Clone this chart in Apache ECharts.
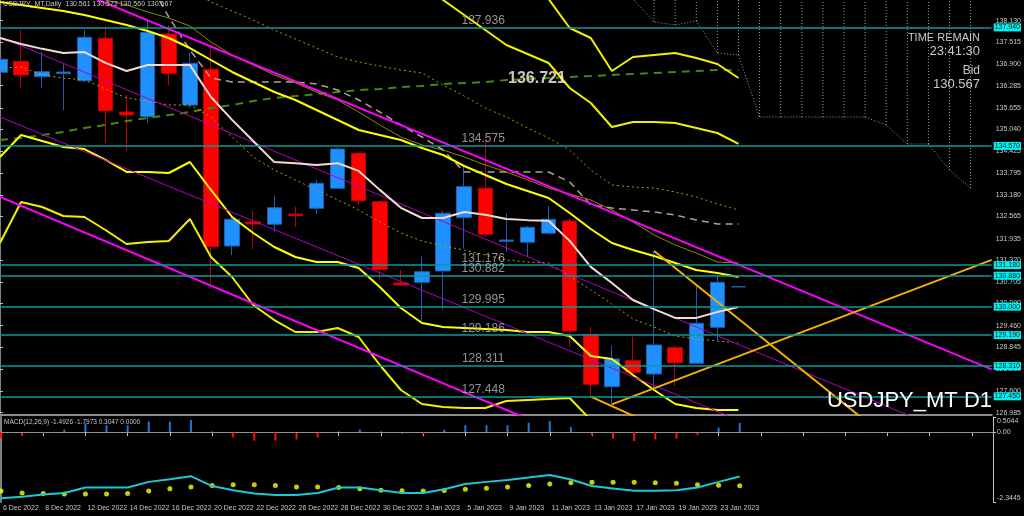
<!DOCTYPE html>
<html><head><meta charset="utf-8">
<style>html,body{margin:0;padding:0;background:#000}#c{width:1024px;height:516px}</style>
<script src="https://cdn.jsdelivr.net/npm/echarts@6.0.0/dist/echarts.min.js"></script>
</head><body><div id="c"></div>
<script>
const dates = ['6 Dec 2022','7 Dec 2022','8 Dec 2022','9 Dec 2022','12 Dec 2022','13 Dec 2022','14 Dec 2022','15 Dec 2022','16 Dec 2022','19 Dec 2022','20 Dec 2022','21 Dec 2022','22 Dec 2022','23 Dec 2022','26 Dec 2022','27 Dec 2022','28 Dec 2022','29 Dec 2022','30 Dec 2022','2 Jan 2023','3 Jan 2023','4 Jan 2023','5 Jan 2023','6 Jan 2023','9 Jan 2023','10 Jan 2023','11 Jan 2023','12 Jan 2023','13 Jan 2023','16 Jan 2023','17 Jan 2023','18 Jan 2023','19 Jan 2023','20 Jan 2023','23 Jan 2023','24 Jan 2023'];
const opens  = [136.663,136.976,136.538,136.63,136.424,137.630,135.535,135.401,137.752,135.73,136.749,131.724,132.407,132.341,132.634,132.796,133.365,134.360,132.984,130.672,130.692,131.014,132.529,133.365,131.858,131.830,132.086,132.435,129.214,127.724,128.463,128.085,128.833,128.389,129.413,130.561];
const closes = [137.033,136.587,136.680,136.67,137.658,135.571,135.449,137.801,136.635,136.92,131.705,132.484,132.350,132.813,132.592,133.507,134.482,133.012,131.062,130.616,130.994,132.654,133.411,132.057,131.895,132.256,132.484,129.308,127.792,128.512,128.133,128.910,128.406,129.527,130.692,130.567];
const lows   = [135.970,136.208,136.225,135.591,136.387,134.645,134.426,135.230,136.302,135.65,130.616,131.469,131.639,132.131,132.265,132.634,133.345,132.890,130.758,130.601,129.592,129.925,131.659,131.989,131.562,131.420,132.057,128.861,127.440,127.223,128.008,127.678,127.752,128.369,129.052,130.560];
const highs  = [137.440,137.866,137.249,136.928,137.866,137.980,136.018,138.170,138.008,137.21,137.440,132.577,132.720,133.155,132.833,133.601,134.531,134.397,133.032,131.042,131.420,132.720,134.028,134.738,132.654,132.293,132.862,132.521,129.430,128.890,129.145,131.582,128.890,130.587,130.900,130.572];

const whiteMA = [137.64,137.47,137.33,137.21,137.24,136.93,136.70,136.87,136.87,136.87,135.96,135.31,134.71,134.11,134.08,134.03,134.08,133.86,133.32,132.81,132.52,132.52,132.69,132.61,132.49,132.46,132.44,131.87,131.13,130.67,130.19,129.93,129.68,129.68,129.85,129.99];
const upperA = [138.662,138.577,138.492,138.406,138.293,138.150,138.008,137.838,137.639,137.354,137.013,136.672,136.387,136.103,135.876,135.591,135.307,135.023,134.881,134.738,134.511,134.312,133.999,133.743,133.487,133.288,133.089,132.663,132.208,131.810,131.611,131.440,131.241,131.042,130.957,130.843];
const lowerB = [134.255,134.881,134.710,134.539,134.482,134.170,133.829,133.829,133.800,134.113,133.317,132.549,132.094,131.696,131.412,131.270,131.270,131.099,130.559,129.962,129.535,129.421,129.393,129.365,129.336,129.279,129.279,129.166,128.597,128.512,128.057,127.630,127.232,127.118,127.061,127.061];
const lowerC = [131.810,132.976,132.833,132.577,132.549,132.179,131.781,131.838,131.867,132.492,131.412,130.843,130.047,129.620,129.279,129.279,129.393,129.137,128.341,127.630,127.232,127.147,127.118,127.118,127.317,127.346,127.374,127.403,126.777,126.066,null,null,null,null,null,null];
const upperD = [null,null,null,null,null,null,null,null,null,null,null,null,null,null,null,null,null,null,null,null,139.146,138.719,138.292,137.866,137.440,137.184,136.928,136.217,135.790,135.108,135.250,135.250,135.222,135.080,134.937,134.625];
const upperE = [null,null,null,null,null,null,null,null,null,null,null,null,null,null,null,null,null,null,null,null,null,null,null,null,null,null,138.747,137.923,137.639,136.700,137.098,137.155,137.212,137.070,136.899,136.501];
const midBB  = [136.786,136.814,136.587,136.501,136.444,136.188,135.933,135.847,135.734,135.734,135.392,134.824,134.255,133.885,133.601,133.317,133.032,132.748,132.407,132.094,131.867,131.724,131.611,131.469,131.326,131.270,131.241,130.871,130.473,130.075,129.649,129.421,129.166,129.080,129.023,128.966];
const dotF   = [null,null,null,null,null,null,null,null,null,139.003,138.662,138.406,138.150,137.866,137.610,137.354,137.098,136.956,136.842,136.729,136.643,136.302,135.989,135.648,135.392,135.080,134.795,134.454,133.885,133.459,133.402,133.373,133.260,133.118,132.919,132.748];
const oliveG = [null,null,null,null,139.003,138.719,138.577,138.378,138.207,137.980,137.525,137.155,136.871,136.587,136.359,136.103,135.876,135.535,135.165,134.824,134.596,134.454,134.255,134.028,133.829,133.601,133.373,133.203,133.032,132.748,132.407,132.037,131.753,131.525,131.270,131.241];
const kijunH = [null,null,null,null,null,null,null,139.288,138.236,137.297,136.501,136.387,136.387,136.387,136.387,136.331,136.160,135.876,135.535,135.165,134.824,134.454,133.829,133.829,133.829,133.829,133.829,133.544,132.890,132.805,132.748,132.691,132.606,132.464,132.350,132.350];
const smaGreen = [134.738,134.795,134.881,134.966,135.080,135.165,135.279,135.364,135.449,135.535,135.648,135.734,135.847,135.933,135.989,136.046,136.103,136.160,136.188,136.245,136.274,136.331,136.359,136.387,136.444,136.473,136.501,136.530,136.558,136.587,136.615,136.643,136.672,136.700,136.729,136.721];
const cloudStart = 29;
const cloudLower = [139.4,138.747,138.094,138.008,138.122,137.212,137.155,135.392,135.392,135.392,135.392,135.392,135.392,135.165,134.625,134.625,133.885,133.373];

const levels = [137.936,134.575,131.176,130.882,129.995,129.186,128.311,127.448];
const bid = 130.567;
const priceTicks = [138.130,137.515,136.900,136.285,135.655,135.040,134.425,133.795,133.180,132.565,131.935,131.320,130.705,130.090,129.460,128.845,128.230,127.600,126.985];
const trendMagenta = [[[0,139.876],[47,128.216]],[[0,133.118],[47,121.26]]];
const trendPurple  = [[[0,137.667],[47,125.924]],[[0,135.392],[47,123.82]]];
const trendGold    = [[[29,127.22],[47,131.33]],[[31,131.58],[41,126.76]],[[28,127.44],[31,126.63]]];

const macdHist   = [-0.21,-0.13,-0.03,0.08,0.29,0.23,0.23,0.35,0.35,0.40,0.02,-0.18,-0.29,-0.29,-0.25,-0.18,0.02,0.08,0.02,-0.05,-0.08,0.08,0.23,0.23,0.23,0.31,0.37,0.17,-0.11,-0.22,-0.30,-0.25,-0.22,-0.11,0.15,0.3047];
const macdMain   = [-2.22,-2.17,-2.09,-2.04,-1.86,-1.86,-1.86,-1.67,-1.58,-1.48,-1.81,-1.95,-2.06,-2.11,-2.11,-2.04,-1.86,-1.86,-1.95,-2.04,-2.04,-1.92,-1.74,-1.67,-1.61,-1.52,-1.44,-1.59,-1.81,-1.89,-1.97,-1.97,-1.95,-1.86,-1.67,-1.4926];
const macdSignal = [-1.98,-2.04,-2.06,-2.08,-2.08,-2.08,-2.06,-1.98,-1.90,-1.84,-1.79,-1.77,-1.77,-1.79,-1.84,-1.84,-1.86,-1.90,-1.95,-1.97,-1.98,-1.96,-1.92,-1.88,-1.84,-1.79,-1.74,-1.70,-1.68,-1.68,-1.68,-1.70,-1.72,-1.77,-1.78,-1.7973];
const macdTicks = [0.5044,0,-2.3445];

const FONT = "'Liberation Sans',Arial,sans-serif";
const cats = dates.concat(new Array(12).fill(''));
const candles = dates.map((d,i)=>[opens[i],closes[i],lows[i],highs[i]]);

function lineS(data,color,width,type,z){return {type:'line',data:data,xAxisIndex:0,yAxisIndex:0,symbol:'none',silent:true,z:z||3,lineStyle:{color:color,width:width,type:type||'solid'}};}
function segS(seg,color,width){return {type:'line',data:seg,xAxisIndex:1,yAxisIndex:0,symbol:'none',silent:true,z:3,lineStyle:{color:color,width:width}};}

const series = [];
series.push({type:'custom',xAxisIndex:0,yAxisIndex:0,silent:true,z:1,
  data: cloudLower.map((v,k)=>[cloudStart+k,v]),
  renderItem:function(params,api){
    const p = api.coord([api.value(0),api.value(1)]);
    const top = params.coordSys.y;
    if (p[1] <= top) return null;
    return {type:'line',shape:{x1:p[0],y1:p[1],x2:p[0],y2:top},style:{stroke:'#9c9c9c',lineWidth:1,lineDash:[1,2]}};
  }});
series.push({type:'line',xAxisIndex:0,yAxisIndex:0,symbol:'none',silent:true,z:1,
  data: cats.map((c,i)=> (i>=cloudStart && i<cloudStart+cloudLower.length) ? cloudLower[i-cloudStart] : null),
  lineStyle:{color:'#9c9c9c',width:1,type:[1,2]}});
series.push({type:'candlestick',xAxisIndex:0,yAxisIndex:0,data:candles,barWidth:15,z:2,silent:true,
  itemStyle:{color:'#1e90ff',borderColor:'#1c5fae',color0:'#ff0000',borderColor0:'#c00000',borderWidth:1}});
series.push(lineS(smaGreen,'#3f8a10',2,[8,6]));
series.push(lineS(midBB,'#a8a800',1,[2,3]));
series.push(lineS(dotF,'#a0a000',1,[2,3]));
series.push(lineS(oliveG,'#8a8a00',1));
series.push(lineS(kijunH,'#b4a090',1.5,[7,5]));
series.push(lineS(upperA,'#ffff00',2));
series.push(lineS(lowerB,'#ffff00',2));
series.push(lineS(lowerC,'#f0f000',2));
series.push(lineS(upperD,'#f0f000',2));
series.push(lineS(upperE,'#f0f000',2));
const white = lineS(whiteMA,'#f2dcd2',2,'solid',4);
white.markLine = {symbol:'none',silent:true,
  lineStyle:{color:'#0c9a9a',width:1.5,type:'solid'},
  label:{position:'end',distance:2,formatter:p=>Number(p.value).toFixed(3),backgroundColor:'#00f0f0',color:'#002222',fontSize:7,fontFamily:FONT,padding:[1,1,0,1]},
  data: levels.map(v=>({yAxis:v})).concat([{yAxis:bid,lineStyle:{opacity:0},label:{backgroundColor:'#ffffff',color:'#000000'}}])};
series.push(white);
trendMagenta.forEach(s=>series.push(segS(s,'#ff00ff',2)));
trendPurple.forEach(s=>series.push(segS(s,'#b000c0',1)));
trendGold.forEach(s=>series.push(segS(s,'#f0b000',2)));
series.push({type:'scatter',xAxisIndex:1,yAxisIndex:0,symbolSize:0,silent:true,z:5,
  data: levels.map(v=>[22.9,v]),
  label:{show:true,position:'top',distance:1,formatter:p=>p.value[1].toFixed(3),color:'#b8b8b8',fontSize:12,fontFamily:FONT}});
series.push({type:'scatter',xAxisIndex:1,yAxisIndex:0,symbolSize:0,silent:true,z:5,
  data: [[25.45, smaGreen[smaGreen.length-1]]],
  label:{show:true,position:'inside',offset:[0,8],formatter:p=>p.value[1].toFixed(3),color:'#fff6e8',fontSize:16,fontWeight:'bold',fontFamily:FONT}});
series.push({type:'bar',xAxisIndex:2,yAxisIndex:1,data:macdHist,barWidth:2,silent:true,
  itemStyle:{color:p=>p.value>=0?'#1e78e0':'#ff1010'},
  markLine:{symbol:'none',silent:true,data:[{yAxis:0}],lineStyle:{color:'#9a9a9a',width:1,type:[2,3]},label:{show:false}}});
series.push({type:'line',xAxisIndex:2,yAxisIndex:1,data:macdMain,symbol:'none',silent:true,lineStyle:{color:'#1ec8d2',width:2}});
series.push({type:'scatter',xAxisIndex:2,yAxisIndex:1,data:macdSignal,symbolSize:5,silent:true,itemStyle:{color:'#ffff00'}});

const txt = (text,pos,size,color)=>Object.assign({text:text,padding:0,textStyle:{color:color||'#c8c8c8',fontSize:size,fontWeight:'normal',fontFamily:FONT}},pos);

const option = {
  backgroundColor:'#000000', animation:false,
  title:[
    txt('USDJPY_MT,Daily  130.561 130.572 130.560 130.567',{left:3,top:1},7),
    txt('MACD(12,26,9) -1.4926 -1.7973 0.3047 0.0000',{left:4,top:419},6.5),
    txt('TIME REMAIN',{right:44,top:32},11),
    txt('23:41:30',{right:44,top:45},13),
    txt('Bid',{right:44,top:65},12),
    txt('130.567',{right:44,top:78},13),
    txt('USDJPY_MT D1',{right:32,top:390},22,'#ffffff')
  ],
  grid:[{left:0,right:31,top:0,height:415},{left:0,right:31,top:417,height:85}],
  xAxis:[
    {type:'category',gridIndex:0,data:cats,boundaryGap:false,axisLine:{show:true,lineStyle:{color:'#8c8c8c',width:2}},axisTick:{show:false},axisLabel:{show:false},splitLine:{show:false}},
    {type:'value',gridIndex:0,min:0,max:47,show:false,splitLine:{show:false}},
    {type:'category',gridIndex:1,data:cats,boundaryGap:false,axisLine:{show:true,lineStyle:{color:'#8c8c8c',width:1}},
      axisTick:{show:true,interval:1,length:4,lineStyle:{color:'#c0c0c0'}},
      axisLabel:{interval:1,align:'left',margin:3,color:'#c8c8c8',fontSize:7,fontFamily:FONT,padding:[0,0,0,2],hideOverlap:false},splitLine:{show:false}}
  ],
  yAxis:[
    {type:'value',gridIndex:0,position:'right',min:126.919,max:138.719,
      axisLine:{show:true,lineStyle:{color:'#c0c0c0'}},
      axisTick:{show:true,length:3,customValues:priceTicks,lineStyle:{color:'#c0c0c0'}},
      axisLabel:{customValues:priceTicks,formatter:v=>Number(v).toFixed(3),color:'#c8c8c8',fontSize:7,fontFamily:FONT,margin:4},
      splitLine:{show:false}},
    {type:'value',gridIndex:1,position:'right',min:-2.3445,max:0.5044,
      axisLine:{show:true,lineStyle:{color:'#c0c0c0'}},
      axisTick:{show:true,length:3,customValues:macdTicks,lineStyle:{color:'#c0c0c0'}},
      axisLabel:{customValues:macdTicks,color:'#c8c8c8',fontSize:7,fontFamily:FONT,margin:4,
        formatter:v=>{const n=Number(v); if(n===0) return '0.00'; return (n>0?'{t|':'{b|')+n.toFixed(4)+'}';},
        rich:{t:{padding:[8,0,0,0],fontSize:7,color:'#c8c8c8',fontFamily:FONT},b:{padding:[0,0,8,0],fontSize:7,color:'#c8c8c8',fontFamily:FONT}}},
      splitLine:{show:false}},
    {type:'value',gridIndex:0,position:'left',axisLine:{show:true,lineStyle:{color:'#808080',width:2}},axisLabel:{show:false},axisTick:{show:false},splitLine:{show:false}},
    {type:'value',gridIndex:1,position:'left',axisLine:{show:true,lineStyle:{color:'#808080',width:2}},axisLabel:{show:false},axisTick:{show:false},splitLine:{show:false}}
  ],
  series: series
};
const chart = echarts.init(document.getElementById('c'),null,{renderer:'canvas'});
chart.setOption(option);
</script></body></html>
